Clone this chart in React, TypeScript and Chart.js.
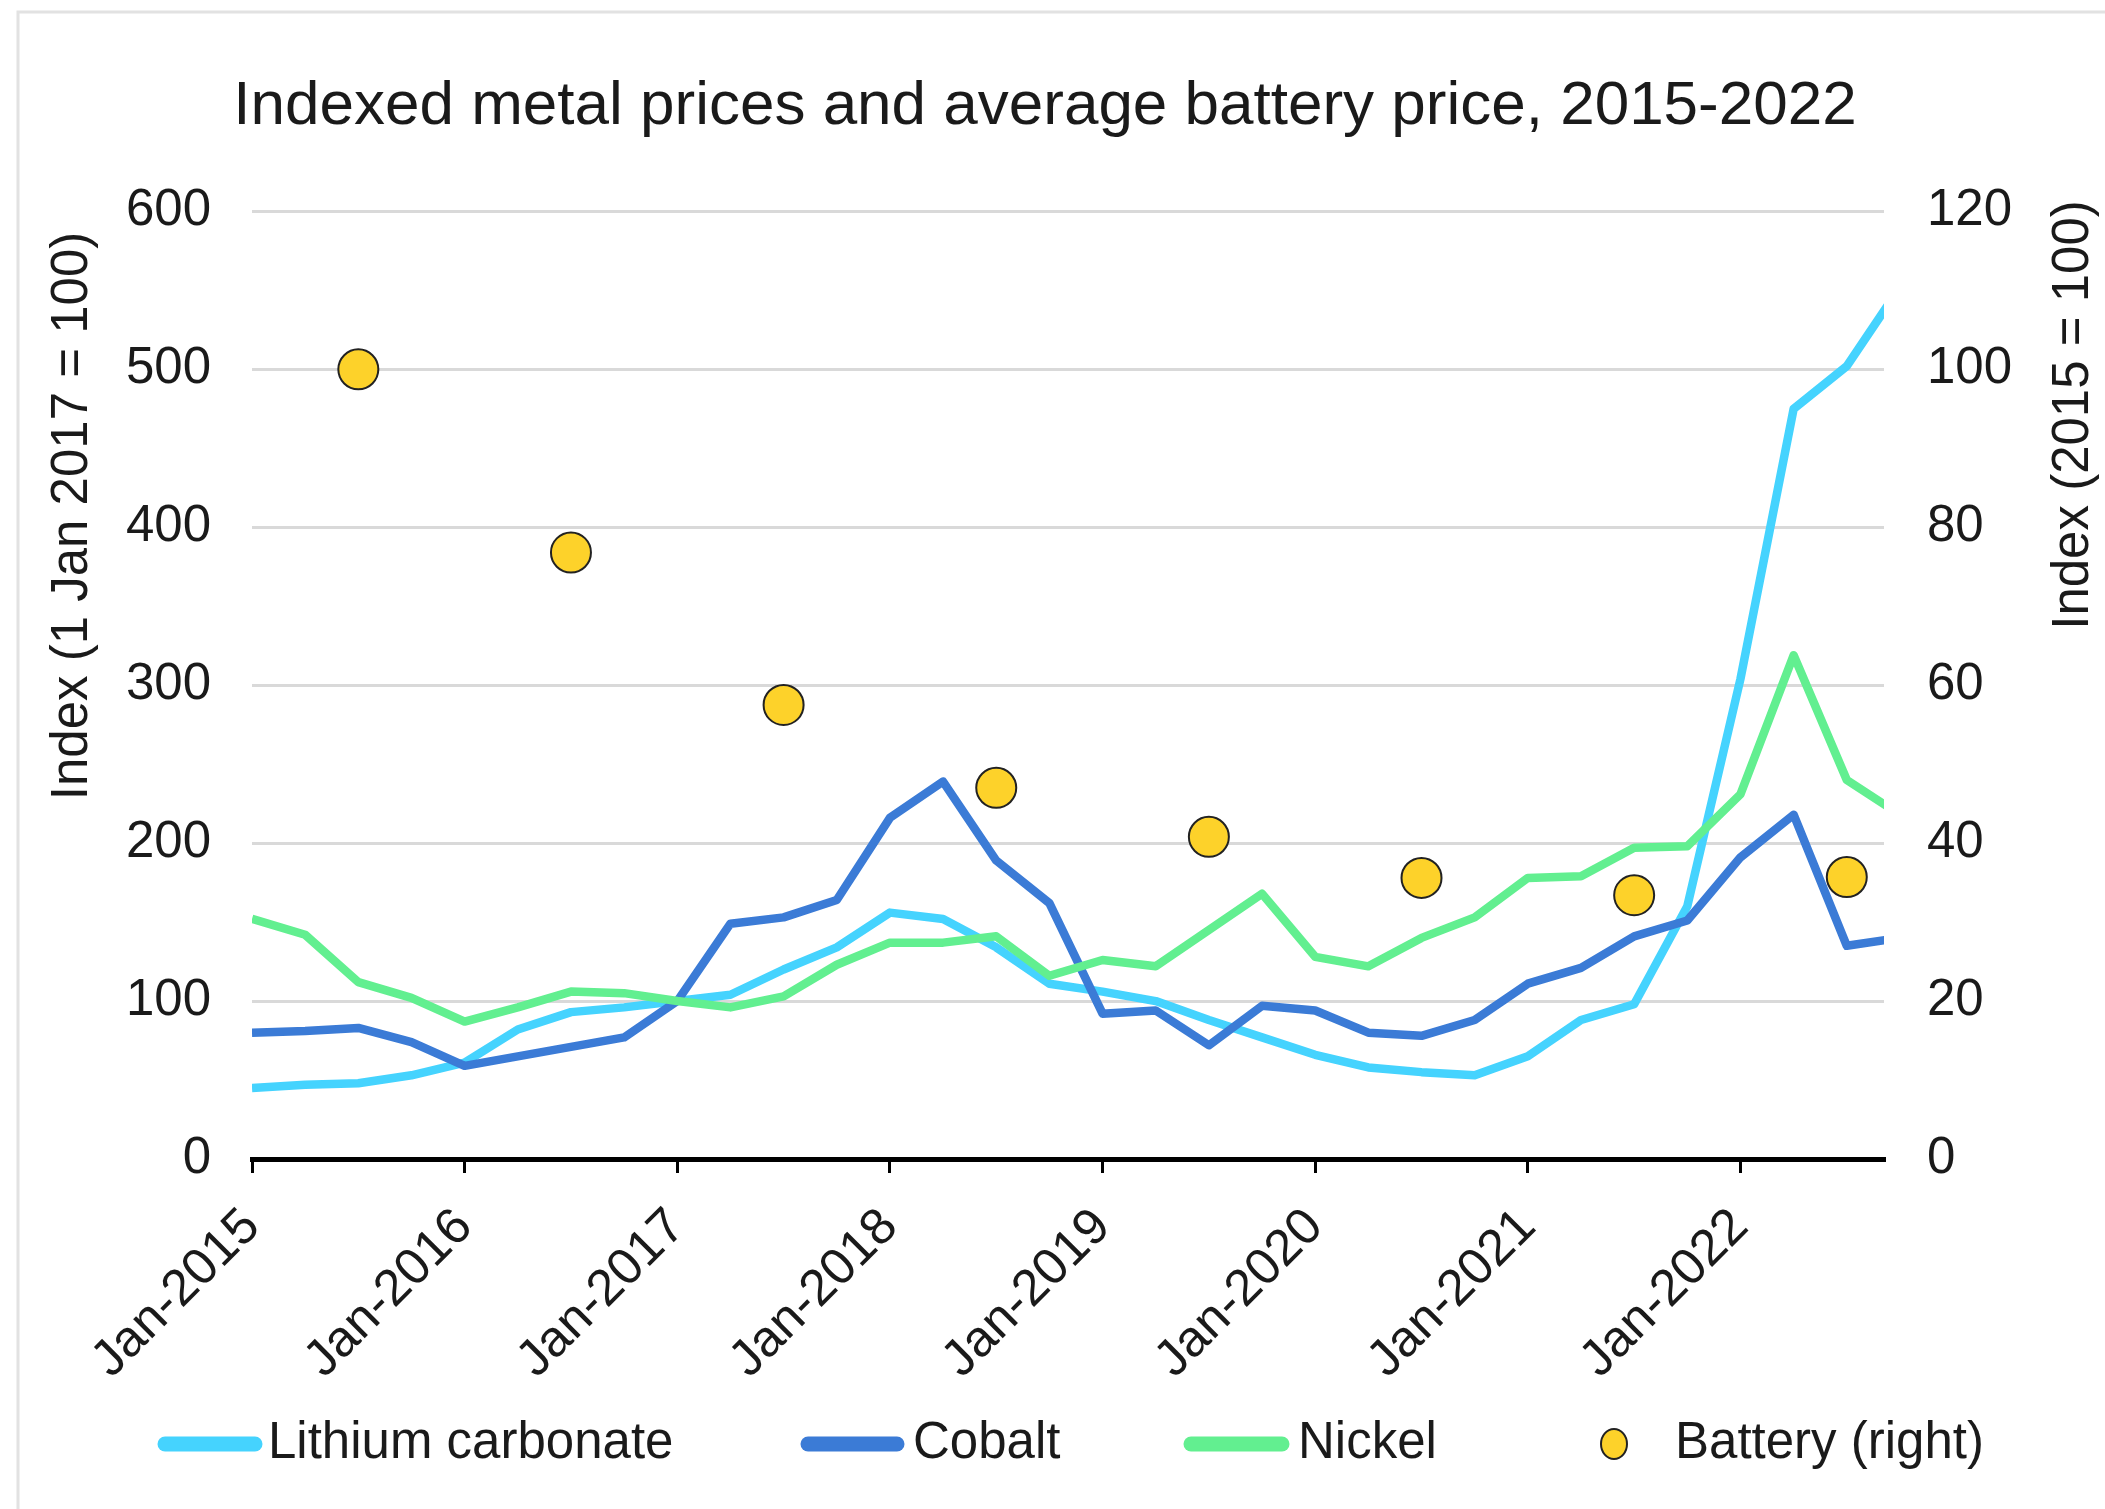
import { useEffect, useRef } from 'react';
import { Chart, registerables } from 'chart.js';

Chart.register(...registerables);

// Quarterly observations, first value = Jan-2015, one value per quarter.
const firstYear = 2015;
const lithiumCarbonate = [45, 47, 48, 53, 61, 82, 93, 96, 100, 104, 120, 134, 156, 152, 134, 111, 106, 100, 88, 77, 66, 58, 55, 53, 65, 88, 98, 160, 304, 475, 502, 552];
const cobalt = [80, 81, 83, 74, 59, 65, 71, 77, 100, 149, 153, 164, 216, 239, 189, 162, 92, 94, 72, 97, 94, 80, 78, 88, 111, 121, 141, 151, 191, 218, 135, 140];
const nickel = [152, 142, 112, 102, 87, 96, 106, 105, 100, 96, 103, 123, 137, 137, 141, 116, 126, 122, 145, 168, 128, 122, 140, 153, 178, 179, 197, 198, 231, 319, 240, 218];

// Average battery pack price, one value per year (plotted mid-year, right axis).
const batteryYears = [2015, 2016, 2017, 2018, 2019, 2020, 2021, 2022];
const batteryIndex = [100, 76.8, 57.5, 47, 40.8, 35.6, 33.4, 35.7];

const xTickLabels = ['Jan-2015', 'Jan-2016', 'Jan-2017', 'Jan-2018', 'Jan-2019', 'Jan-2020', 'Jan-2021', 'Jan-2022'];

const TITLE = 'Indexed metal prices and average battery price, 2015-2022';
const LEFT_TITLE = 'Index (1 Jan 2017 = 100)';
const RIGHT_TITLE = 'Index (2015 = 100)';

const COLORS = {
  lithium: '#45D3FE',
  cobalt: '#3B7BD6',
  nickel: '#62EF90',
  battery: '#FDD22A',
  text: '#1a1a1a',
};

const FONT = "'Liberation Sans', Arial, sans-serif";
const W = 2105;
const H = 1509;

const toPoints = (values: number[]) => values.map((v, i) => ({ x: i, y: v }));

const legendItems = [
  { label: 'Lithium carbonate', color: COLORS.lithium, kind: 'line', x0: 165, x1: 255, tx: 268 },
  { label: 'Cobalt', color: COLORS.cobalt, kind: 'line', x0: 808, x1: 897, tx: 913 },
  { label: 'Nickel', color: COLORS.nickel, kind: 'line', x0: 1191, x1: 1282, tx: 1298 },
  { label: 'Battery (right)', color: COLORS.battery, kind: 'dot', x0: 1614, x1: 1614, tx: 1675 },
];

const decorPlugin = {
  id: 'decor',
  beforeDraw(chart: any) {
    const ctx = chart.ctx;
    ctx.save();
    ctx.fillStyle = '#ffffff';
    ctx.fillRect(0, 0, chart.width, chart.height);
    ctx.strokeStyle = '#e2e2e2';
    ctx.lineWidth = 3;
    ctx.beginPath();
    ctx.moveTo(18, chart.height);
    ctx.lineTo(18, 12);
    ctx.lineTo(chart.width, 12);
    ctx.stroke();
    ctx.restore();
  },
  afterDraw(chart: any) {
    const ctx = chart.ctx;
    ctx.save();
    ctx.fillStyle = COLORS.text;
    ctx.font = `51px ${FONT}`;
    ctx.textAlign = 'center';
    ctx.textBaseline = 'middle';
    // axis titles
    ctx.save();
    ctx.translate(73, 516);
    ctx.rotate(-Math.PI / 2);
    ctx.fillText(LEFT_TITLE, 0, 0);
    ctx.restore();
    ctx.save();
    ctx.translate(2074, 415);
    ctx.rotate(-Math.PI / 2);
    ctx.fillText(RIGHT_TITLE, 0, 0);
    ctx.restore();

    // legend
    const ly = 1444;
    ctx.textAlign = 'left';
    legendItems.forEach((it) => {
      if (it.kind === 'line') {
        ctx.strokeStyle = it.color;
        ctx.lineWidth = 15;
        ctx.lineCap = 'round';
        ctx.beginPath();
        ctx.moveTo(it.x0, ly);
        ctx.lineTo(it.x1, ly);
        ctx.stroke();
      } else {
        ctx.fillStyle = it.color;
        ctx.strokeStyle = '#222';
        ctx.lineWidth = 2;
        ctx.beginPath();
        ctx.ellipse(it.x0, ly, 13, 15, 0, 0, Math.PI * 2);
        ctx.fill();
        ctx.stroke();
      }
      ctx.fillStyle = COLORS.text;
      ctx.fillText(it.label, it.tx, ly);
    });
    ctx.restore();
  },
};

export default function App() {
  const canvasRef = useRef<HTMLCanvasElement | null>(null);

  useEffect(() => {
    const canvas = canvasRef.current;
    if (!canvas) return;
    Chart.defaults.font.family = FONT;

    const lineStyle = {
      borderWidth: 8.5,
      pointRadius: 0,
      tension: 0,
      fill: false,
      clip: 0,
      borderJoinStyle: 'round' as const,
      yAxisID: 'y',
    };

    const chart = new Chart(canvas, {
      type: 'line',
      data: {
        datasets: [
          {
            label: 'Battery (right)',
            data: batteryYears.map((yr, i) => ({ x: (yr - firstYear) * 4 + 2, y: batteryIndex[i] })),
            showLine: false,
            pointRadius: 20,
            pointBackgroundColor: COLORS.battery,
            pointBorderColor: '#222',
            pointBorderWidth: 2,
            borderColor: COLORS.battery,
            backgroundColor: COLORS.battery,
            yAxisID: 'y1',
            order: 0,
            clip: false,
          },
          { ...lineStyle, label: 'Nickel', data: toPoints(nickel), borderColor: COLORS.nickel, backgroundColor: COLORS.nickel, order: 1 },
          { ...lineStyle, label: 'Cobalt', data: toPoints(cobalt), borderColor: COLORS.cobalt, backgroundColor: COLORS.cobalt, order: 2 },
          { ...lineStyle, label: 'Lithium carbonate', data: toPoints(lithiumCarbonate), borderColor: COLORS.lithium, backgroundColor: COLORS.lithium, order: 3 },
        ],
      },
      options: {
        responsive: false,
        animation: false,
        devicePixelRatio: 1,
        events: [],
        layout: { padding: { top: 0, left: 0, right: 15, bottom: 0 } },
        plugins: {
          legend: { display: false },
          tooltip: { enabled: false },
          title: {
            display: true,
            text: TITLE,
            color: COLORS.text,
            font: { size: 62, weight: 'normal', family: FONT },
            padding: { top: 70, bottom: 67 },
          },
        },
        scales: {
          x: {
            type: 'linear',
            min: 0,
            max: 30.7,
            afterBuildTicks: (scale: any) => {
              scale.ticks = xTickLabels.map((_, i) => ({ value: i * 4 }));
            },
            afterFit: (scale: any) => {
              scale.height = 350;
            },
            border: { display: true, color: '#000', width: 5 },
            grid: { drawOnChartArea: false, drawTicks: true, tickLength: 14, color: '#000', lineWidth: 3 },
            ticks: {
              autoSkip: false,
              minRotation: 45,
              maxRotation: 45,
              padding: 24,
              color: COLORS.text,
              font: { size: 51 },
              callback: (_v: any, i: number) => xTickLabels[i],
            },
          },
          y: {
            position: 'left',
            min: 0,
            max: 600,
            afterFit: (scale: any) => {
              scale.width = 252;
            },
            border: { display: false },
            grid: { color: '#d9d9d9', lineWidth: 3, drawTicks: false },
            ticks: { stepSize: 100, padding: 41, color: COLORS.text, font: { size: 51 } },
          },
          y1: {
            position: 'right',
            min: 0,
            max: 120,
            afterFit: (scale: any) => {
              scale.width = 206;
            },
            border: { display: false },
            grid: { display: false, drawTicks: false },
            ticks: { stepSize: 20, padding: 43, color: COLORS.text, font: { size: 51 } },
          },
        },
      },
      plugins: [decorPlugin],
    } as any);

    return () => chart.destroy();
  }, []);

  return (
    <div style={{ position: 'fixed', left: 0, top: 0, width: W, height: H, background: '#fff' }}>
      <canvas ref={canvasRef} width={W} height={H} style={{ width: W, height: H, display: 'block' }} />
    </div>
  );
}
